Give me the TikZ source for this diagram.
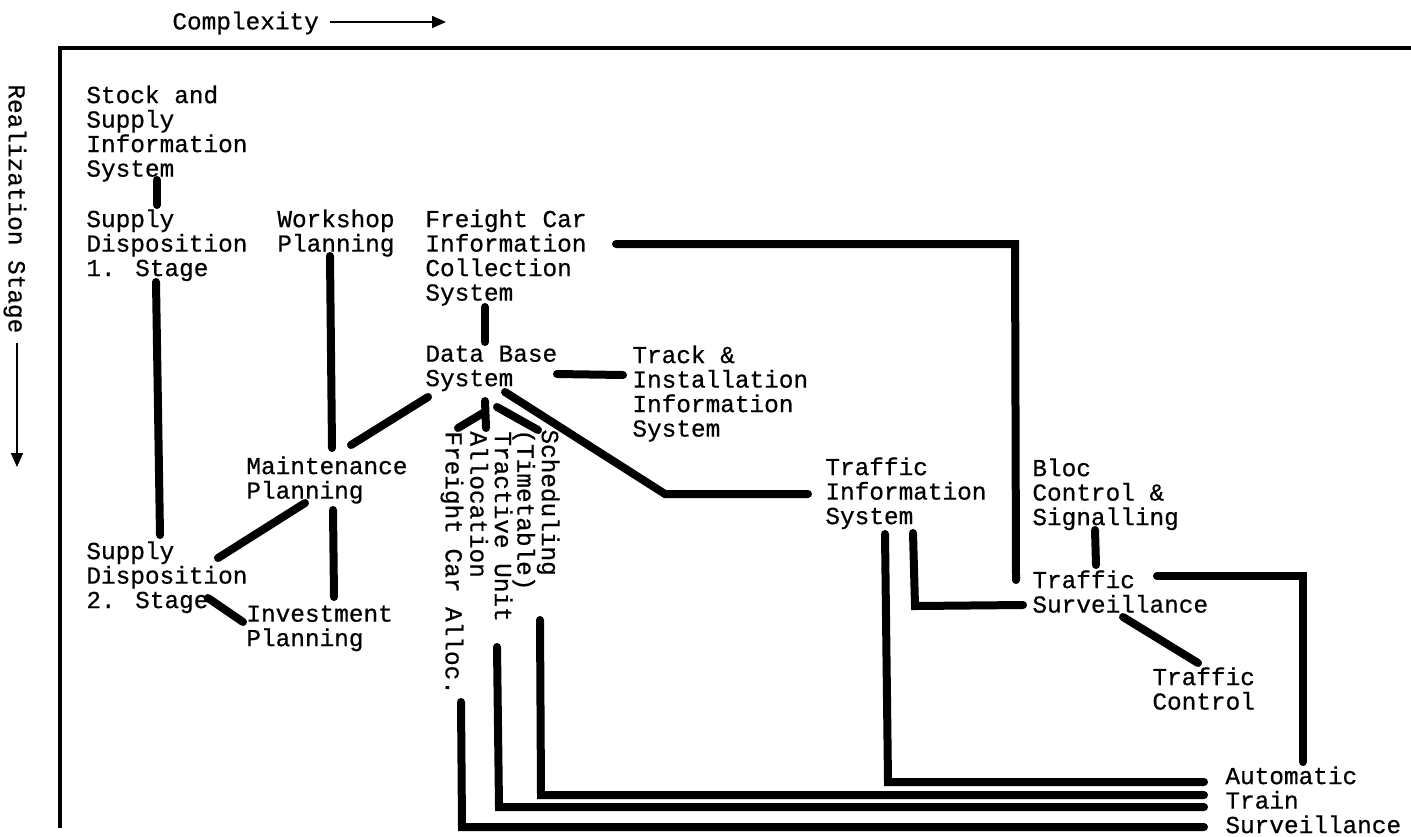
\documentclass[tikz,border=0pt]{standalone}
\usepackage{fontspec}
\setmainfont[FakeBold=0.6]{Liberation Mono}
\usetikzlibrary{arrows.meta}
\newcommand\lblstart{\lineskiplimit=-6pt\relax\rule{0pt}{9pt}}
\begin{document}
\begin{tikzpicture}[x=0.5pt,y=-0.5pt,
  lbl/.style={anchor=north west, inner sep=0pt, align=left,
    font=\fontsize{12.2}{12.25}\selectfont,
    execute at begin node=\lblstart},
  rlbl/.style={lbl, rotate=-90},
  conn/.style={line width=4pt, line cap=round, line join=miter},
  axisarrow/.style={line width=0.9pt, -{Triangle[length=7pt,width=6pt]}},
  frame/.style={line width=1.8pt}]
\useasboundingbox (0,0) rectangle (1411,836);

% axes
\node[lbl] (cplx) at (172,11) {Complexity};
\node[rlbl] (real) at (27,84) {Realization Stage};
\coordinate (cA) at (330,22);  \coordinate (cB) at (446,22);
\coordinate (rA) at (17,343);  \coordinate (rB) at (17,467);
\draw[axisarrow] (cA) -- (cB);
\draw[axisarrow] (rA) -- (rB);
\coordinate (fTR) at (1411,48); \coordinate (fTL) at (60,48); \coordinate (fBL) at (60,828);
\draw[frame] (fTR) -- (fTL) -- (fBL);

% labels
\node[lbl] (stock) at (86,85) {Stock and\\Supply\\Information\\System};
\node[lbl] (sd1) at (86,209) {Supply\\Disposition\\1. Stage};
\node[lbl] (work) at (277,209) {Workshop\\Planning};
\node[lbl] (fcic) at (425,209) {Freight Car\\Information\\Collection\\System};
\node[lbl] (dbs) at (425,345) {Data Base\\System};
\node[lbl] (track) at (632,345) {Track \&\\Installation\\Information\\System};
\node[lbl] (maint) at (246,456) {Maintenance\\Planning};
\node[lbl] (tis) at (825,457) {Traffic\\Information\\System};
\node[lbl] (bloc) at (1032,458) {Bloc\\Control \&\\Signalling};
\node[lbl] (sd2) at (86,541) {Supply\\Disposition\\2. Stage};
\node[lbl] (inv) at (246,605) {Investment\\Planning};
\node[lbl] (tsurv) at (1032,570) {Traffic\\Surveillance};
\node[lbl] (tctrl) at (1152,667) {Traffic\\Control};
\node[lbl] (ats) at (1225,766) {Automatic\\Train\\Surveillance};
\node[rlbl] (sched) at (560,429) {Scheduling\\(Timetable)};
\node[rlbl] (tract) at (513,431) {Tractive Unit\\Allocation};
\node[rlbl] (fca) at (464,431) {Freight Car Alloc.};

% connector end points
\coordinate (c1a) at (157,180);  \coordinate (c1b) at (157,205);
\coordinate (c2a) at (156,282);  \coordinate (c2b) at (160,535);
\coordinate (c3a) at (330,256);  \coordinate (c3b) at (332,448);
\coordinate (c4a) at (485,307);  \coordinate (c4b) at (485,342);
\coordinate (c5a) at (616,244);  \coordinate (c5k) at (1015,244); \coordinate (c5b) at (1016,580);
\coordinate (c6a) at (557,374);  \coordinate (c6b) at (623,375);
\coordinate (c7a) at (428,397);  \coordinate (c7b) at (351,445);
\coordinate (c8a) at (505,392);  \coordinate (c8k) at (665,494); \coordinate (c8b) at (808,494);
\coordinate (c9a) at (497,407);  \coordinate (c9b) at (538,430);
\coordinate (c10a) at (485,401); \coordinate (c10b) at (486,428);
\coordinate (c11a) at (483,413); \coordinate (c11b) at (458,428);
\coordinate (c12a) at (305,503); \coordinate (c12b) at (218,558);
\coordinate (c13a) at (333,510); \coordinate (c13b) at (334,597);
\coordinate (c14a) at (208,598); \coordinate (c14b) at (243,622);
\coordinate (c15a) at (913,533); \coordinate (c15k) at (915,606); \coordinate (c15b) at (1023,605);
\coordinate (c16a) at (885,534); \coordinate (c16k) at (888,782); \coordinate (c16b) at (1204,782);
\coordinate (c17a) at (1095,530); \coordinate (c17b) at (1096,565);
\coordinate (c18a) at (1157,576); \coordinate (c18k) at (1303,576); \coordinate (c18b) at (1303,762);
\coordinate (c19a) at (1123,617); \coordinate (c19b) at (1198,663);
\coordinate (c20a) at (540,620); \coordinate (c20k) at (541,795); \coordinate (c20b) at (1204,795);
\coordinate (c21a) at (497,647); \coordinate (c21k) at (499,807); \coordinate (c21b) at (1204,807);
\coordinate (c22a) at (461,702); \coordinate (c22k) at (462,827); \coordinate (c22b) at (1204,827);

% connectors
\draw[conn] (c1a) -- (c1b);
\draw[conn] (c2a) -- (c2b);
\draw[conn] (c3a) -- (c3b);
\draw[conn] (c4a) -- (c4b);
\draw[conn] (c5a) -- (c5k) -- (c5b);
\draw[conn] (c6a) -- (c6b);
\draw[conn] (c7a) -- (c7b);
\draw[conn] (c8a) -- (c8k) -- (c8b);
\draw[conn] (c9a) -- (c9b);
\draw[conn] (c10a) -- (c10b);
\draw[conn] (c11a) -- (c11b);
\draw[conn] (c12a) -- (c12b);
\draw[conn] (c13a) -- (c13b);
\draw[conn] (c14a) -- (c14b);
\draw[conn] (c15a) -- (c15k) -- (c15b);
\draw[conn] (c16a) -- (c16k) -- (c16b);
\draw[conn] (c17a) -- (c17b);
\draw[conn] (c18a) -- (c18k) -- (c18b);
\draw[conn] (c19a) -- (c19b);
\draw[conn] (c20a) -- (c20k) -- (c20b);
\draw[conn] (c21a) -- (c21k) -- (c21b);
\draw[conn] (c22a) -- (c22k) -- (c22b);
\end{tikzpicture}
\end{document}
